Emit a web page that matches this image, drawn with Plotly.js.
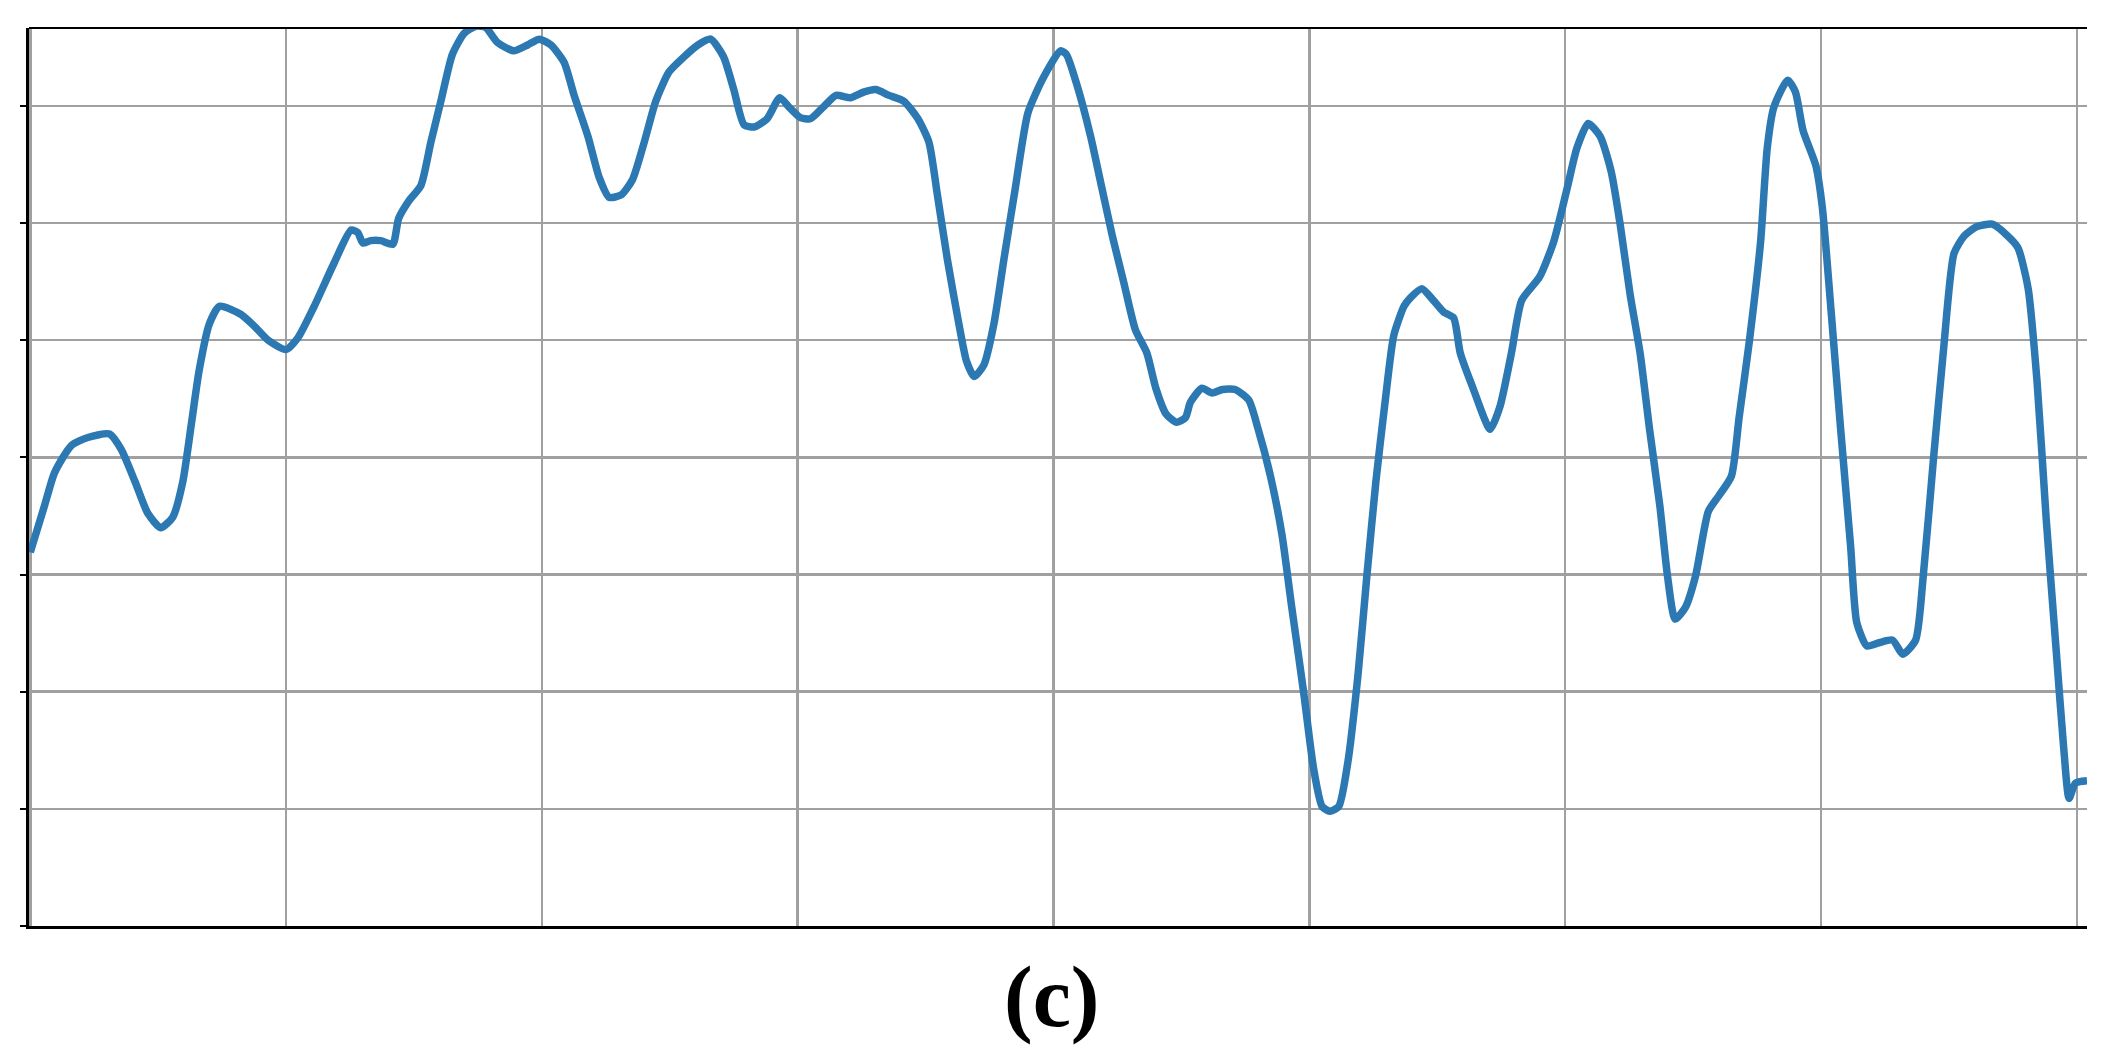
<!DOCTYPE html>
<html>
<head>
<meta charset="utf-8">
<script src="https://cdn.plot.ly/plotly-3.0.1.min.js"></script>
<style>
  html, body { margin: 0; padding: 0; background: #ffffff; }
  #chart { width: 2114px; height: 1045px; }
</style>
</head>
<body>
<div id="chart"></div>
<script>
const xValues = [
  0.00, 0.056, 0.095, 0.16, 0.225, 0.31, 0.355, 0.41, 0.46, 0.51,
  0.557, 0.596, 0.63, 0.66, 0.70, 0.74, 0.824, 0.876, 0.93, 1.00,
  1.046, 1.11, 1.19, 1.254, 1.28, 1.30, 1.33, 1.37, 1.417, 1.44,
  1.48, 1.527, 1.566, 1.605, 1.65, 1.696, 1.742, 1.78, 1.827, 1.89,
  1.944, 1.99, 2.035, 2.087, 2.126, 2.18, 2.224, 2.263, 2.31, 2.354,
  2.40, 2.445, 2.497, 2.556, 2.61, 2.66, 2.71, 2.75, 2.79, 2.83,
  2.88, 2.93, 2.966, 3.01, 3.05, 3.10, 3.15, 3.207, 3.26, 3.305,
  3.357, 3.415, 3.47, 3.513, 3.546, 3.585, 3.63, 3.66, 3.69, 3.728,
  3.767, 3.806, 3.85, 3.90, 3.96, 4.027, 4.05, 4.09, 4.145, 4.18,
  4.23, 4.275, 4.32, 4.365, 4.40, 4.44, 4.48, 4.516, 4.535, 4.58,
  4.62, 4.66, 4.71, 4.763, 4.80, 4.848, 4.893, 4.93, 4.978, 5.017,
  5.05, 5.08, 5.115, 5.15, 5.19, 5.225, 5.26, 5.297, 5.33, 5.37,
  5.394, 5.44, 5.485, 5.525, 5.564, 5.59, 5.64, 5.707, 5.746, 5.79,
  5.83, 5.90, 5.955, 6.007, 6.046, 6.09, 6.137, 6.18, 6.215, 6.254,
  6.293, 6.33, 6.37, 6.40, 6.43, 6.47, 6.51, 6.56, 6.60, 6.65,
  6.68, 6.72, 6.764, 6.79, 6.816, 6.87, 6.90, 6.93, 6.98, 7.005,
  7.04, 7.077, 7.116, 7.14, 7.18, 7.23, 7.28, 7.32, 7.37, 7.40,
  7.44, 7.48, 7.52, 7.56, 7.61, 7.67, 7.73, 7.77, 7.81, 7.845,
  7.88, 7.92, 7.95, 7.97, 7.995, 8.04
];
const yValues = [
  3.19, 3.59, 3.87, 4.10, 4.17, 4.20, 4.07, 3.79, 3.52, 3.40,
  3.49, 3.79, 4.29, 4.74, 5.14, 5.29, 5.22, 5.12, 5.00, 4.92,
  5.02, 5.29, 5.67, 5.94, 5.92, 5.83, 5.85, 5.85, 5.82, 6.04,
  6.19, 6.32, 6.69, 7.04, 7.44, 7.62, 7.68, 7.67, 7.54, 7.47,
  7.52, 7.57, 7.52, 7.37, 7.09, 6.74, 6.39, 6.22, 6.24, 6.37,
  6.69, 7.04, 7.29, 7.42, 7.52, 7.57, 7.42, 7.14, 6.84, 6.82,
  6.89, 7.07, 6.99, 6.90, 6.89, 6.99, 7.09, 7.07, 7.12, 7.14,
  7.09, 7.04, 6.89, 6.69, 6.24, 5.69, 5.14, 4.82, 4.69, 4.79,
  5.14, 5.69, 6.29, 6.94, 7.24, 7.47, 7.44, 7.19, 6.74, 6.39,
  5.89, 5.49, 5.09, 4.89, 4.59, 4.37, 4.30, 4.34, 4.47, 4.59,
  4.55, 4.58, 4.58, 4.49, 4.24, 3.84, 3.34, 2.74, 1.99, 1.34,
  1.02, 0.98, 1.02, 1.39, 2.14, 2.99, 3.79, 4.49, 5.04, 5.29,
  5.36, 5.44, 5.34, 5.24, 5.19, 4.89, 4.59, 4.24, 4.44, 4.89,
  5.34, 5.54, 5.84, 6.29, 6.64, 6.85, 6.74, 6.44, 5.99, 5.39,
  4.89, 4.24, 3.59, 2.99, 2.62, 2.72, 2.99, 3.54, 3.67, 3.84,
  4.34, 4.99, 5.84, 6.64, 6.99, 7.22, 7.12, 6.79, 6.49, 6.14,
  5.24, 4.24, 3.24, 2.59, 2.39, 2.42, 2.44, 2.32, 2.44, 2.99,
  3.99, 4.94, 5.74, 5.89, 5.97, 5.99, 5.89, 5.79, 5.44, 4.64,
  3.49, 2.34, 1.49, 1.09, 1.22, 1.24
];
const xTicks = [0, 1, 2, 3, 4, 5, 6, 7, 8];
const yTicks = [0, 1, 2, 3, 4, 5, 6, 7];
const panelLabel = "(c)";

const trace = {
  x: xValues,
  y: yValues,
  type: "scatter",
  mode: "lines",
  line: { color: "#2b78b2", width: 7.5, shape: "spline", smoothing: 0.6 },
  hoverinfo: "skip"
};

const layout = {
  width: 2114,
  height: 1045,
  paper_bgcolor: "#ffffff",
  plot_bgcolor: "#ffffff",
  showlegend: false,
  margin: { l: 29, r: 27, t: 28, b: 119, pad: 0 },
  xaxis: {
    range: [-0.005, 8.04],
    tickvals: xTicks,
    showticklabels: false,
    ticks: "",
    showgrid: true,
    gridcolor: "#a0a0a0",
    gridwidth: 2.5,
    zeroline: false,
    showline: true,
    linecolor: "#000000",
    linewidth: 3,
    mirror: false
  },
  yaxis: {
    range: [0, 7.665],
    tickvals: yTicks,
    showticklabels: false,
    ticks: "outside",
    ticklen: 6,
    tickwidth: 2,
    tickcolor: "#000000",
    showgrid: true,
    gridcolor: "#a0a0a0",
    gridwidth: 2.5,
    zeroline: false,
    showline: true,
    linecolor: "#000000",
    linewidth: 3
  },
  shapes: [
    { type: "line", xref: "paper", yref: "paper", x0: 0, x1: 1, y0: 1, y1: 1,
      line: { color: "#000000", width: 2 } }
  ],
  annotations: [
    {
      text: "<b>" + panelLabel + "</b>",
      xref: "paper", yref: "paper",
      x: 0.497, y: -0.079,
      xanchor: "center", yanchor: "middle",
      showarrow: false,
      font: { family: "Liberation Serif, DejaVu Serif, serif", size: 86, color: "#000000" }
    }
  ]
};

Plotly.newPlot("chart", [trace], layout, { staticPlot: true, displayModeBar: false });
</script>
</body>
</html>
